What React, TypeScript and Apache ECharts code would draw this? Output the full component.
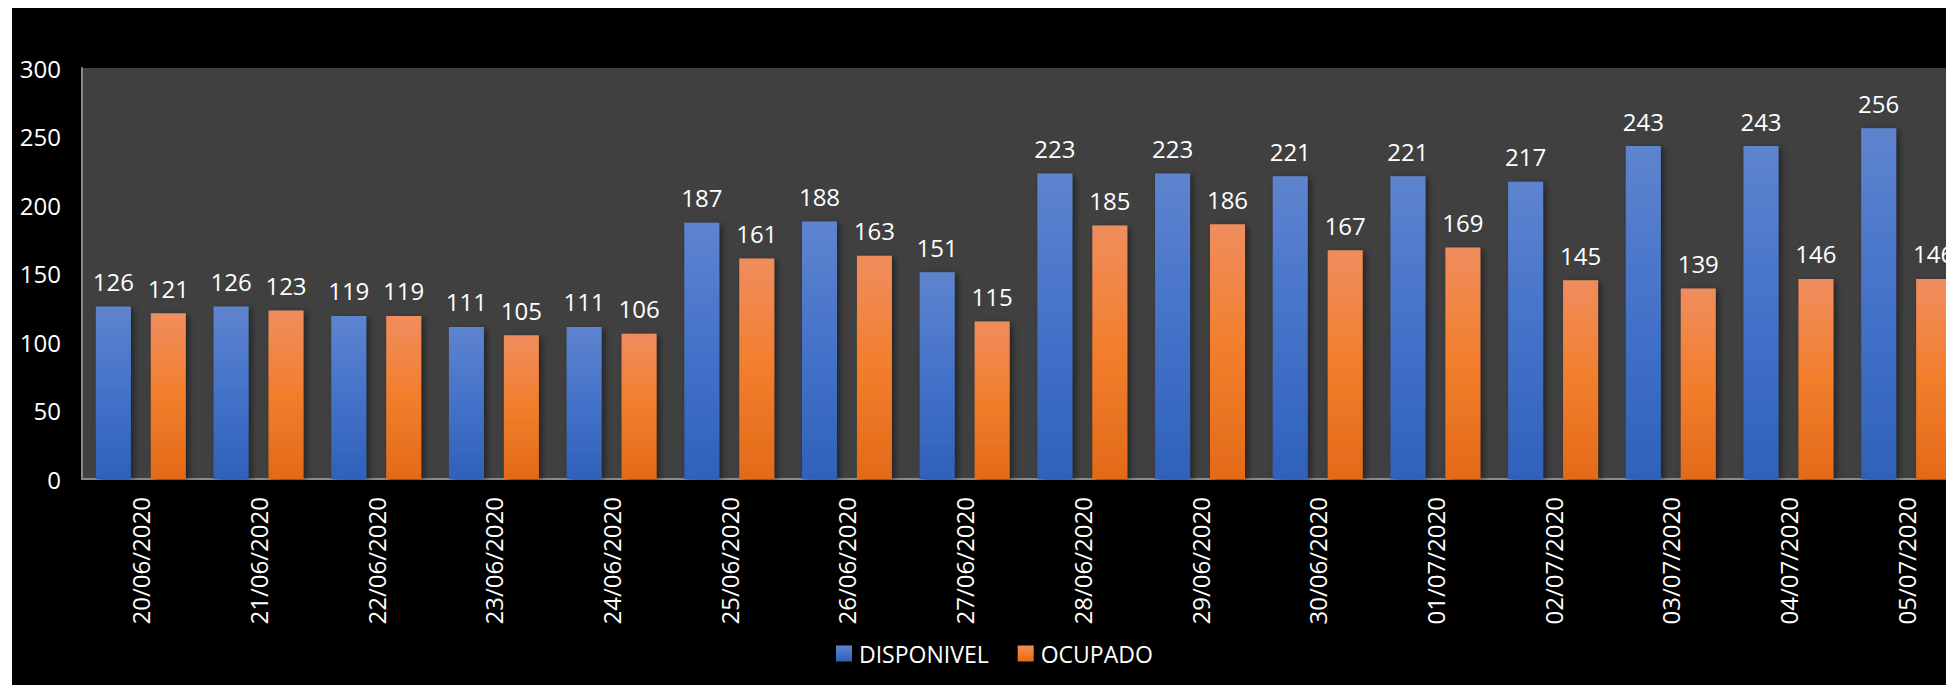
import React, { useEffect, useRef } from "react";
import * as echarts from "echarts";

const categories = [
  "20/06/2020", "21/06/2020", "22/06/2020", "23/06/2020", "24/06/2020", "25/06/2020",
  "26/06/2020", "27/06/2020", "28/06/2020", "29/06/2020", "30/06/2020", "01/07/2020",
  "02/07/2020", "03/07/2020", "04/07/2020", "05/07/2020",
];
const disponivel = [126, 126, 119, 111, 111, 187, 188, 151, 223, 223, 221, 221, 217, 243, 243, 256];
const ocupado = [121, 123, 119, 105, 106, 161, 163, 115, 185, 186, 167, 169, 145, 139, 146, 146];
const seriesNames = ["DISPONIVEL", "OCUPADO"];

const FONT = "Open Sans";

const blueGrad = new echarts.graphic.LinearGradient(0, 0, 0, 1, [
  { offset: 0, color: "#5E84CF" },
  { offset: 0.5, color: "#4472C9" },
  { offset: 1, color: "#2F61BA" },
]);
const orangeGrad = new echarts.graphic.LinearGradient(0, 0, 0, 1, [
  { offset: 0, color: "#F08D5E" },
  { offset: 0.5, color: "#F27E2C" },
  { offset: 1, color: "#E36A18" },
]);

export default function App() {
  const ref = useRef<HTMLDivElement>(null);
  useEffect(() => {
    if (!ref.current) return;
    const chart = echarts.init(ref.current, undefined, { renderer: "svg" });
    const barCommon = {
      type: "bar" as const,
      barWidth: 35,
      barGap: "57%",
      label: {
        show: true,
        position: "top" as const,
        distance: 13,
        color: "#ffffff",
        fontFamily: FONT,
        fontSize: 24,
      },
    };
    chart.setOption({
      animation: false,
      backgroundColor: "#000000",
      textStyle: { fontFamily: FONT },
      grid: {
        left: 70,
        right: 7,
        top: 60,
        bottom: 206,
        show: true,
        backgroundColor: "#404040",
        borderWidth: 0,
      },
      legend: {
        data: seriesNames,
        left: 819,
        top: 629,
        itemWidth: 16,
        itemHeight: 16,
        itemGap: 29,
        icon: "rect",
        textStyle: { color: "#ffffff", fontSize: 23, fontFamily: FONT, padding: [0, 0, 0, 2] },
      },
      xAxis: {
        type: "category",
        data: categories,
        axisLine: { show: true, lineStyle: { color: "#8a8a8a", width: 2 } },
        axisTick: { show: false },
        axisLabel: {
          color: "#ffffff",
          fontSize: 24,
          fontFamily: FONT,
          rotate: 90,
          margin: 18,
          interval: 0,
        },
      },
      yAxis: {
        type: "value",
        min: 0,
        max: 300,
        interval: 50,
        axisLine: { show: true, lineStyle: { color: "#8a8a8a", width: 2 } },
        axisTick: { show: false },
        splitLine: { show: false },
        axisLabel: { color: "#ffffff", fontSize: 24, fontFamily: FONT, margin: 21 },
      },
      series: [
        {
          ...barCommon,
          name: seriesNames[0],
          data: disponivel,
          itemStyle: {
            color: blueGrad,
            shadowColor: "rgba(0,0,0,0.45)",
            shadowBlur: 6,
            shadowOffsetX: 3,
            shadowOffsetY: 2,
          },
        },
        {
          ...barCommon,
          name: seriesNames[1],
          data: ocupado,
          itemStyle: {
            color: orangeGrad,
            shadowColor: "rgba(0,0,0,0.45)",
            shadowBlur: 6,
            shadowOffsetX: 3,
            shadowOffsetY: 2,
          },
        },
      ],
    });
    return () => chart.dispose();
  }, []);
  return (
    <div
      style={{
        position: "fixed",
        left: 0,
        top: 0,
        width: 1946,
        height: 685,
        overflow: "hidden",
        background: "#ffffff",
      }}
    >
      <div
        ref={ref}
        style={{ position: "absolute", left: 12, top: 8, width: 1960, height: 677 }}
      />
    </div>
  );
}
